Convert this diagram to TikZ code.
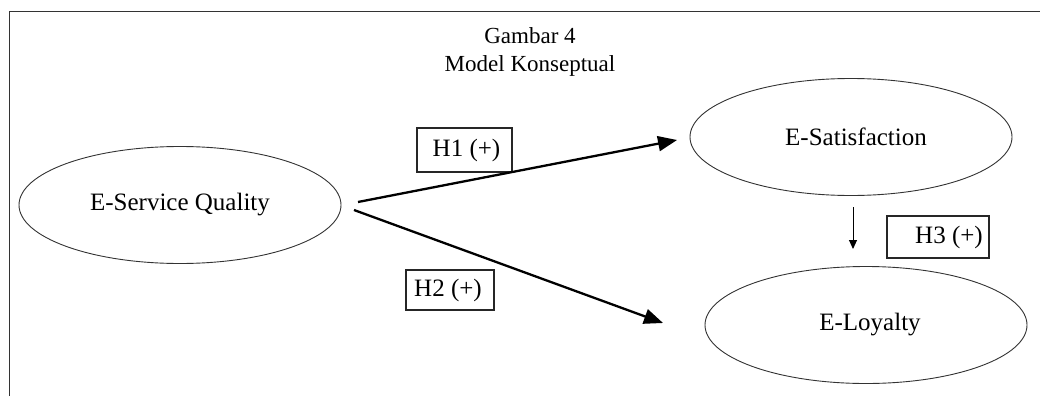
\documentclass[tikz,border=0pt]{standalone}
\usepackage{fontspec}
\setmainfont{Liberation Serif}
\usetikzlibrary{shapes.geometric,arrows.meta}
\begin{document}
\begin{tikzpicture}[x=1pt,y=-1pt,
  construct/.style={draw=black!80,line width=0.9pt,ellipse,inner sep=0pt,
    minimum width=322pt,minimum height=117pt,font=\fontsize{25}{30}\selectfont},
  hypbox/.style={draw=black!85,line width=1.1pt,inner sep=0pt,
    font=\fontsize{25}{30}\selectfont},
  bigarrow/.style={line width=2.3pt,-{Triangle[length=19pt,width=15pt]}},
  smallarrow/.style={line width=1pt,-{Triangle[length=9pt,width=8pt]}},
  titletext/.style={font=\fontsize{23}{28}\selectfont,inner sep=0pt}]
\useasboundingbox (0,0) rectangle (1040,396);
\draw[black!80,line width=1pt] (9,396) -- (9,12) -- (1040,12);
\node[titletext] (t1) at (530,36) {Gambar 4};
\node[titletext] (t2) at (530,66) {Model Konseptual};
\node[construct] (esq) at (180,205) {E-Service Quality};
\node[construct] (esat) at (851,137) {\hspace*{10pt}E-Satisfaction};
\node[construct] (eloy) at (866,325) {\hspace*{8pt}E-Loyalty};
\node[hypbox,minimum width=95pt,minimum height=44pt] (h1) at (464.5,150) {\hspace*{4pt}H1 (+)};
\node[hypbox,minimum width=88pt,minimum height=40pt] (h2) at (450,290) {H2 (+)\hspace*{4pt}};
\node[hypbox,minimum width=102pt,minimum height=42pt] (h3) at (938,237) {\hspace*{22pt}H3 (+)};
\coordinate (a1s) at (358,202);
\coordinate (a1e) at (677,140);
\coordinate (a2s) at (354,210);
\coordinate (a2e) at (663,323);
\coordinate (a3s) at (853,207);
\coordinate (a3e) at (853,249);
\draw[bigarrow] (a1s) -- (a1e);
\draw[bigarrow] (a2s) -- (a2e);
\draw[smallarrow] (a3s) -- (a3e);
\end{tikzpicture}
\end{document}
